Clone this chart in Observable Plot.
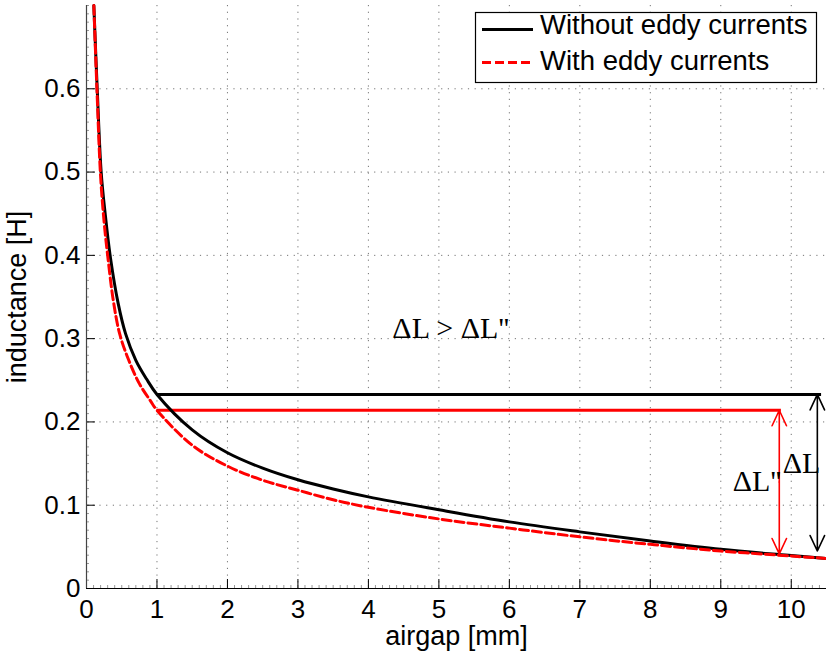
<!DOCTYPE html>
<html><head><meta charset="utf-8">
<script src="https://cdn.jsdelivr.net/npm/d3@7"></script>
<script src="https://cdn.jsdelivr.net/npm/@observablehq/plot@0.6"></script>
<style>
body{margin:0;background:#fff;}
#wrap{position:relative;width:826px;height:655px;font-family:"Liberation Sans",Arial,Helvetica,sans-serif;}
#legend{position:absolute;left:0;top:0;pointer-events:none;}
</style></head><body><div id="wrap"></div>
<script>
// ---- data ----
const seriesNames = ["Without eddy currents", "With eddy currents"];
const seriesColors = ["#000000", "#ff0000"];

const airgapNoEddy = [0.104,0.152,0.208,0.265,0.34,0.45,0.554,0.7,0.85,1.0,1.5,2.0,2.5,3.0,3.5,4.0,5.0,6.0,7.0,8.0,9.0,10.0,10.5];
const inductanceNoEddy = [0.70,0.60,0.50,0.45,0.397,0.342,0.306,0.274,0.2518,0.233,0.1905,0.163,0.1445,0.1305,0.1195,0.110,0.0945,0.080,0.068,0.057,0.047,0.0395,0.036];

const airgapEddy = [0.104,0.15,0.2,0.25,0.30,0.38,0.473,0.6,0.75,0.91,1.0,1.5,2.0,2.5,3.0,3.5,4.0,5.0,6.0,7.0,8.0,9.0,10.0,10.5];
const inductanceEddy = [0.70,0.595,0.495,0.44,0.40,0.346,0.305,0.274,0.246,0.225,0.214,0.172,0.147,0.130,0.118,0.1065,0.0975,0.0835,0.0725,0.062,0.053,0.045,0.039,0.036];

// reference levels (horizontal lines) and ΔL arrows
const levelStart = [1.0, 1.0];
const levelEnd = [10.43, 9.86];
const levelValue = [0.233, 0.214];
const arrowX = [10.37, 9.83];
const arrowTop = [0.233, 0.214];
const arrowBottom = [0.045, 0.0415];

// annotations
const noteText = ["\u0394L > \u0394L''", "\u0394L''", "\u0394L"];
const noteX = [4.34, 9.17, 9.88];
const noteY = [0.3118, 0.1292, 0.1497];

const xTicks = [0,1,2,3,4,5,6,7,8,9,10];
const yTicks = [0,0.1,0.2,0.3,0.4,0.5,0.6];
const xLabel = "airgap [mm]";
const yLabel = "inductance [H]";

// ---- build ----
const noEddyData = airgapNoEddy.map((x,i)=>({x, y: inductanceNoEddy[i]}));
const eddyData = airgapEddy.map((x,i)=>({x, y: inductanceEddy[i]}));
const levels = levelStart.map((x1,i)=>({x1, x2: levelEnd[i], y: levelValue[i], c: seriesColors[i]}));
const arrows = [];
arrowX.forEach((x,i)=>{
  const mid = (arrowTop[i]+arrowBottom[i])/2;
  arrows.push({x, y1: mid, y2: arrowTop[i], c: seriesColors[i]});
  arrows.push({x, y1: mid, y2: arrowBottom[i], c: seriesColors[i]});
});
const notes = noteText.map((t,i)=>({t, x: noteX[i], y: noteY[i]}));
const minorX = d3.range(0, 10.51, 0.1);
const minorY = d3.range(0, 0.701, 0.01);

const sans = '"Liberation Sans", Arial, Helvetica, sans-serif';
const serif = '"Liberation Serif", "Times New Roman", serif';

const chart = Plot.plot({
  width: 826, height: 655,
  marginLeft: 86, marginRight: 0, marginTop: 5, marginBottom: 67,
  x: {domain: [0, 10.5]},
  y: {domain: [0, 0.7]},
  style: {fontFamily: sans, fontSize: "26px", background: "#fff", color: "#000"},
  marks: [
    Plot.gridX(xTicks, {stroke: "#000", strokeOpacity: 0.55, strokeDasharray: "1.2,5.5", strokeWidth: 1}),
    Plot.gridY(yTicks, {stroke: "#000", strokeOpacity: 0.55, strokeDasharray: "1.2,5.5", strokeWidth: 1}),
    Plot.axisX(minorX, {tickSize: -3, tickFormat: () => "", stroke: "#999", label: null}),
    Plot.axisY(minorY, {tickSize: -3, tickFormat: () => "", stroke: "#999", label: null}),
    Plot.axisX(xTicks, {tickSize: -9, tickFormat: () => "", stroke: "#000", label: null}),
    Plot.axisY(yTicks, {tickSize: -9, tickFormat: () => "", stroke: "#000", label: null}),
    Plot.axisX(xTicks, {tickSize: 0, tickPadding: 11, tickFormat: d => String(d), fontSize: 26, label: null}),
    Plot.axisY(yTicks, {tickSize: 0, tickPadding: 6, tickFormat: d => d === 0 ? "0" : d.toFixed(1), fontSize: 26, label: null}),
    Plot.ruleX([0], {stroke: "#444", strokeWidth: 1.2}),
    Plot.ruleY([0], {stroke: "#000", strokeWidth: 1.2}),
    Plot.text([xLabel], {frameAnchor: "bottom", lineAnchor: "middle", textAnchor: "middle", dy: 48, text: d => d, fontSize: 27, fontFamily: sans}),
    Plot.text([yLabel], {frameAnchor: "left", lineAnchor: "middle", textAnchor: "middle", dx: -69, rotate: -90, text: d => d, fontSize: 27, fontFamily: sans}),
    Plot.ruleY(levels, {x1: "x1", x2: "x2", y: "y", stroke: "c", strokeWidth: 3}),
    Plot.line(noEddyData, {x: "x", y: "y", stroke: seriesColors[0], strokeWidth: 3, curve: "catmull-rom"}),
    Plot.line(eddyData, {x: "x", y: "y", stroke: seriesColors[1], strokeWidth: 3, strokeDasharray: "9,4", curve: "catmull-rom"}),
    Plot.arrow(arrows, {x: "x", y1: "y1", y2: "y2", stroke: "c", strokeWidth: 1.6, headLength: 16, headAngle: 50}),
    Plot.text(notes, {x: "x", y: "y", text: "t", textAnchor: "start", lineAnchor: "middle", fontSize: 30, fontFamily: serif, fill: "#000"})
  ]
});
const wrap = document.getElementById("wrap");
wrap.appendChild(chart);

// legend overlay
const ns = "http://www.w3.org/2000/svg";
const leg = document.createElementNS(ns, "svg");
leg.setAttribute("id", "legend");
leg.setAttribute("width", 826); leg.setAttribute("height", 100);
const box = document.createElementNS(ns, "rect");
box.setAttribute("x", 475.5); box.setAttribute("y", 12.5);
box.setAttribute("width", 341); box.setAttribute("height", 70);
box.setAttribute("fill", "#fff"); box.setAttribute("stroke", "#000"); box.setAttribute("stroke-width", 1.2);
leg.appendChild(box);
const rowY = [29.5, 62.5];
const rowBase = [33.5, 70];
seriesNames.forEach((name, i) => {
  const ln = document.createElementNS(ns, "line");
  ln.setAttribute("x1", 482); ln.setAttribute("x2", 533);
  ln.setAttribute("y1", rowY[i]); ln.setAttribute("y2", rowY[i]);
  ln.setAttribute("stroke", seriesColors[i]); ln.setAttribute("stroke-width", 3);
  if (i === 1) ln.setAttribute("stroke-dasharray", "9,4");
  leg.appendChild(ln);
  const tx = document.createElementNS(ns, "text");
  tx.setAttribute("x", 540); tx.setAttribute("y", rowBase[i]);
  tx.setAttribute("font-family", sans); tx.setAttribute("font-size", 27.5);
  tx.textContent = name;
  leg.appendChild(tx);
});
wrap.appendChild(leg);
</script>
</body></html>
